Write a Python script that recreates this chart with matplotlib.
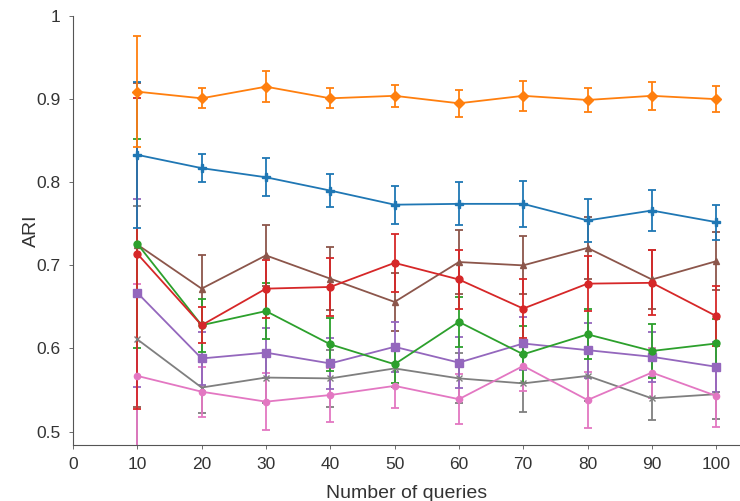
import numpy as np
import matplotlib
matplotlib.use('Agg')
import matplotlib.pyplot as plt

plt.rcParams['font.family'] = ['Liberation Sans', 'DejaVu Sans']

# Data
queries = [10, 20, 30, 40, 50, 60, 70, 80, 90, 100]

blue = [0.833, 0.817, 0.806, 0.790, 0.773, 0.774, 0.774, 0.754, 0.766, 0.752]
blue_err = [0.088, 0.017, 0.023, 0.020, 0.023, 0.026, 0.028, 0.026, 0.025, 0.021]

orange = [0.909, 0.901, 0.915, 0.901, 0.904, 0.895, 0.904, 0.899, 0.904, 0.900]
orange_err = [0.067, 0.012, 0.019, 0.012, 0.013, 0.016, 0.018, 0.014, 0.017, 0.016]

green = [0.726, 0.628, 0.645, 0.605, 0.581, 0.632, 0.593, 0.617, 0.597, 0.606]
green_err = [0.126, 0.032, 0.034, 0.032, 0.022, 0.030, 0.034, 0.030, 0.032, 0.030]

red = [0.714, 0.628, 0.672, 0.674, 0.703, 0.683, 0.648, 0.678, 0.679, 0.639]
red_err = [0.187, 0.022, 0.035, 0.035, 0.035, 0.035, 0.035, 0.033, 0.039, 0.036]

purple = [0.667, 0.588, 0.595, 0.582, 0.602, 0.583, 0.606, 0.598, 0.590, 0.578]
purple_err = [0.113, 0.032, 0.030, 0.031, 0.030, 0.031, 0.032, 0.033, 0.030, 0.030]

brown = [0.725, 0.672, 0.712, 0.684, 0.656, 0.704, 0.700, 0.721, 0.683, 0.705]
brown_err = [0.195, 0.041, 0.037, 0.038, 0.035, 0.038, 0.035, 0.037, 0.035, 0.035]

pink = [0.567, 0.548, 0.536, 0.544, 0.555, 0.539, 0.579, 0.538, 0.571, 0.543]
pink_err = [0.110, 0.030, 0.034, 0.032, 0.027, 0.030, 0.030, 0.034, 0.030, 0.037]

gray = [0.611, 0.553, 0.565, 0.564, 0.576, 0.564, 0.558, 0.567, 0.540, 0.545]
gray_err = [0.160, 0.031, 0.030, 0.034, 0.022, 0.030, 0.034, 0.030, 0.026, 0.030]

series = [
    (brown, brown_err, '#8c564b', '^', 4.5),
    (gray, gray_err, '#7f7f7f', 'x', 4.5),
    (pink, pink_err, '#e377c2', 'o', 4.5),
    (purple, purple_err, '#9467bd', 's', 5.5),
    (green, green_err, '#2ca02c', 'o', 5),
    (red, red_err, '#d62728', 'o', 5),
    (blue, blue_err, '#1f77b4', 'P', 6),
    (orange, orange_err, '#ff7f0e', 'D', 5),
]

fig = plt.figure(figsize=(7.4, 5.01), dpi=100)
ax = fig.add_axes([0.0986, 0.112, 0.9014, 0.856])

for vals, err, col, mk, ms in series:
    ax.errorbar(queries, vals, yerr=err, color=col, marker=mk, markersize=ms,
                linewidth=1.3, elinewidth=1.3, capsize=3, capthick=1.3)

ax.set_xlim(0, 103.7)
ax.set_ylim(0.484, 1.0)
ax.set_xticks([0, 10, 20, 30, 40, 50, 60, 70, 80, 90, 100])
ax.set_yticks([0.5, 0.6, 0.7, 0.8, 0.9, 1.0])
ax.set_yticklabels(['0.5', '0.6', '0.7', '0.8', '0.9', '1'])

for s in ['top', 'right']:
    ax.spines[s].set_visible(False)
for s in ['left', 'bottom']:
    ax.spines[s].set_color('#555555')
    ax.spines[s].set_linewidth(0.8)
ax.tick_params(colors='#555555', labelcolor='#333333', labelsize=12.5, length=3, width=0.6, pad=6)

ax.set_xlabel('Number of queries', fontsize=14, color='#333333', labelpad=9)
ax.set_ylabel('ARI', fontsize=14, color='#333333', labelpad=-3)

fig.savefig('out.png', dpi=100)
